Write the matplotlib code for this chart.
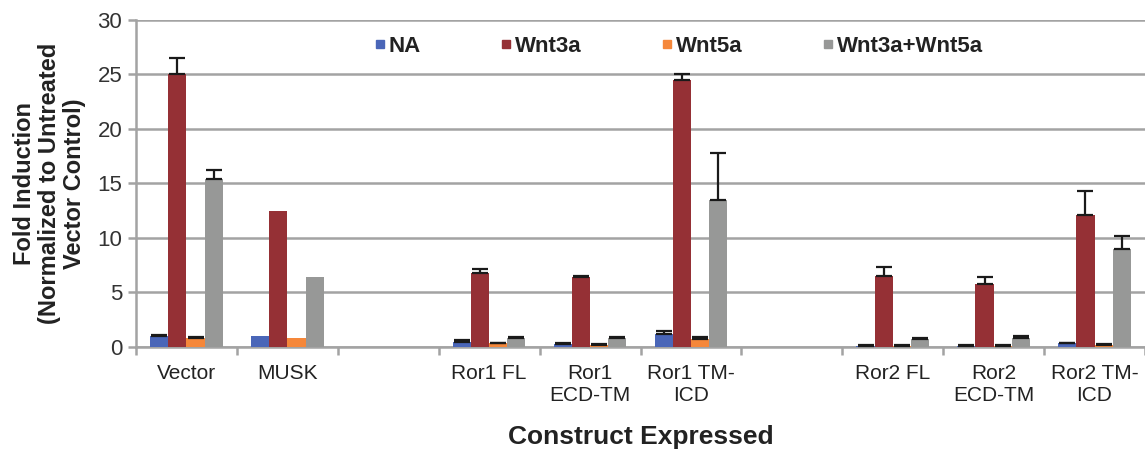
import matplotlib
matplotlib.use("Agg")
import matplotlib.pyplot as plt
import numpy as np
from matplotlib.lines import Line2D

plt.rcParams['font.family'] = ['Liberation Sans', 'DejaVu Sans']

categories = ["Vector", "MUSK", "", "Ror1 FL", "Ror1\nECD-TM", "Ror1 TM-\nICD",
              "", "Ror2 FL", "Ror2\nECD-TM", "Ror2 TM-\nICD"]
series_names = ["NA", "Wnt3a", "Wnt5a", "Wnt3a+Wnt5a"]
na_vals    = [1.0, 1.0, 0, 0.5, 0.3, 1.2, 0, 0.1, 0.1, 0.35]
na_err     = [0.1, 0.0, 0, 0.1, 0.05, 0.3, 0, 0.05, 0.05, 0.05]
w3a_vals   = [25.0, 12.5, 0, 6.8, 6.4, 24.5, 0, 6.5, 5.8, 12.1]
w3a_err    = [1.5, 0.0, 0, 0.4, 0.1, 0.5, 0, 0.8, 0.6, 2.2]
w5a_vals   = [0.8, 0.8, 0, 0.35, 0.2, 0.75, 0, 0.1, 0.1, 0.2]
w5a_err    = [0.1, 0.0, 0, 0.05, 0.05, 0.2, 0, 0.05, 0.05, 0.05]
combo_vals = [15.4, 6.4, 0, 0.8, 0.8, 13.5, 0, 0.7, 0.8, 9.0]
combo_err  = [0.8, 0.0, 0, 0.1, 0.1, 4.3, 0, 0.1, 0.2, 1.2]
yticks = [0, 5, 10, 15, 20, 25, 30]

colors = ["#4A66B8", "#953035", "#F5873A", "#979897"]

fig = plt.figure(figsize=(11.45, 4.5), dpi=100)
ax = fig.add_axes([0.1188, 0.2289, 0.8812, 0.7267])

x = np.arange(len(categories))
w = 0.18
vals = [na_vals, w3a_vals, w5a_vals, combo_vals]
errs = [na_err, w3a_err, w5a_err, combo_err]
for i, (v, e, c) in enumerate(zip(vals, errs, colors)):
    pos = x + (i - 1.5) * w
    ax.bar(pos, v, width=w, color=c, zorder=3)
    v_arr = np.array(v); e_arr = np.array(e)
    mask = (v_arr > 0) & (e_arr > 0)
    ax.errorbar(pos[mask], v_arr[mask], yerr=[np.zeros(mask.sum()), e_arr[mask]],
                fmt='none', ecolor='#1a1a1a', elinewidth=1.6, capsize=5.5,
                capthick=1.6, zorder=4)

ax.set_xlim(-0.5, len(categories) - 0.5)
ax.set_ylim(0, 30)
ax.set_yticks(yticks)
ax.yaxis.grid(True, color='#A3A3A3', linewidth=1.8, zorder=0)
ax.set_axisbelow(True)

for s in ['top', 'right']:
    ax.spines[s].set_visible(False)
ax.spines['left'].set_color('#A3A3A3')
ax.spines['left'].set_linewidth(1.8)
ax.spines['bottom'].set_color('#A3A3A3')
ax.spines['bottom'].set_linewidth(1.8)

ax.set_xticks(x)
ax.set_xticklabels(categories, fontsize=15, color='#222222', linespacing=1.2)
ax.tick_params(axis='x', length=0, pad=12)
ax.set_xticks(np.arange(-0.5, len(categories) + 0.5, 1), minor=True)
ax.tick_params(axis='x', which='minor', length=6, width=1.8, color='#A3A3A3')
ax.tick_params(axis='y', length=6, width=1.8, color='#A3A3A3', labelsize=16,
               labelcolor='#333333', pad=4)

ax.set_ylabel("Fold Induction\n(Normalized to Untreated\nVector Control)",
              fontsize=17, fontweight='bold', color='#222222', linespacing=1.12,
              labelpad=8)
ax.set_xlabel("Construct Expressed", fontsize=19, fontweight='bold',
              color='#222222', labelpad=15)

handles = [Line2D([0], [0], marker='s', linestyle='none', markersize=6,
                  markerfacecolor=c, markeredgecolor=c) for c in colors]
leg = fig.legend(handles, series_names, loc='upper left', ncol=4,
                 bbox_to_anchor=(374 / 1145, 1 - 36 / 450),
                 bbox_transform=fig.transFigure, frameon=False,
                 borderpad=0, borderaxespad=0,
                 prop={'size': 16, 'weight': 'bold'}, handletextpad=0.15,
                 columnspacing=3.6, handlelength=0.5)
for t in leg.get_texts():
    t.set_color('#222222')

fig.savefig("out.png", dpi=100)
